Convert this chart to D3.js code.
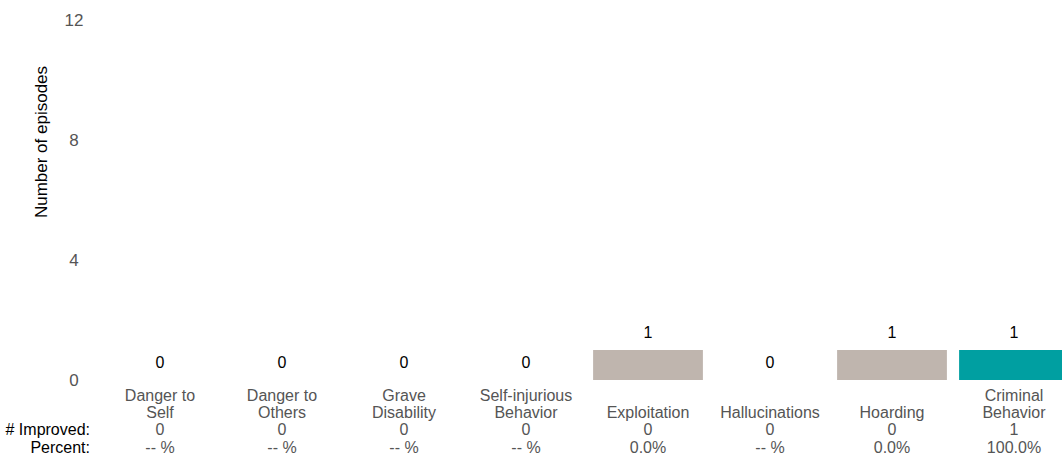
<!DOCTYPE html>
<html>
<head>
<meta charset="utf-8">
<script src="https://cdn.jsdelivr.net/npm/d3@7"></script>
<style>
    body { margin: 0; background: #fff; }
    text { font-family: "Liberation Sans", Arial, sans-serif; }
</style>
</head>
<body>
<div id="chart"></div>
<script>
var categories = [["Danger to", "Self"], ["Danger to", "Others"], ["Grave", "Disability"],
    ["Self-injurious", "Behavior"], ["Exploitation"], ["Hallucinations"], ["Hoarding"],
    ["Criminal", "Behavior"]];
var episodes = [0, 0, 0, 0, 1, 0, 1, 1];
var improved = [0, 0, 0, 0, 0, 0, 0, 1];
var percents = ["-- %", "-- %", "-- %", "-- %", "0.0%", "-- %", "0.0%", "100.0%"];
var barColors = ["#bfb5ae", "#bfb5ae", "#bfb5ae", "#bfb5ae", "#bfb5ae", "#bfb5ae", "#bfb5ae", "#009fa1"];
var yTicks = [0, 4, 8, 12];

var width = 1062, height = 456;

var svg = d3.select("#chart").append("svg")
    .attr("width", width)
    .attr("height", height);

var x = d3.scaleBand()
    .domain(d3.range(categories.length))
    .range([99, 1075])
    .paddingInner(0.1)
    .paddingOuter(0.05);

var y = d3.scaleLinear()
    .domain([0, 12])
    .range([380, 20]);

function cx(i) { return x(i) + x.bandwidth() / 2; }

// y tick labels, no axis line
svg.append("g").selectAll("text")
    .data(yTicks)
    .enter().append("text")
    .attr("x", 74)
    .attr("y", function (d) { return y(d); })
    .attr("dy", "0.35em")
    .attr("text-anchor", "middle")
    .attr("fill", "#555")
    .style("font-size", "17px")
    .text(function (d) { return d; });

svg.append("text")
    .attr("transform", "translate(47,142) rotate(-90)")
    .attr("text-anchor", "middle")
    .attr("fill", "#000")
    .style("font-size", "17px")
    .text("Number of episodes");

// bars
svg.append("g").selectAll("rect")
    .data(episodes)
    .enter().append("rect")
    .attr("x", function (d, i) { return x(i); })
    .attr("y", function (d) { return y(d); })
    .attr("width", x.bandwidth())
    .attr("height", function (d) { return y(0) - y(d); })
    .attr("fill", function (d, i) { return barColors[i]; });

// value labels
svg.append("g").selectAll("text")
    .data(episodes)
    .enter().append("text")
    .attr("x", function (d, i) { return cx(i); })
    .attr("y", function (d) { return y(d) - 12; })
    .attr("text-anchor", "middle")
    .attr("fill", "#000")
    .style("font-size", "16px")
    .text(function (d) { return d; });

// category labels, bottom-aligned
var cat = svg.append("g").selectAll("text")
    .data(categories)
    .enter().append("text")
    .attr("text-anchor", "middle")
    .attr("fill", "#555")
    .style("font-size", "16px");
cat.each(function (lines, i) {
    var t = d3.select(this);
    lines.forEach(function (l, j) {
        t.append("tspan")
            .attr("x", cx(i))
            .attr("y", 418 - (lines.length - 1 - j) * 17)
            .text(l);
    });
});

// # Improved row
svg.append("text")
    .attr("x", 90).attr("y", 435)
    .attr("text-anchor", "end")
    .style("font-size", "16px")
    .text("# Improved:");
svg.append("g").selectAll("text")
    .data(improved)
    .enter().append("text")
    .attr("x", function (d, i) { return cx(i); })
    .attr("y", 435)
    .attr("text-anchor", "middle")
    .attr("fill", "#555")
    .style("font-size", "16px")
    .text(function (d) { return d; });

// Percent row
svg.append("text")
    .attr("x", 90).attr("y", 453)
    .attr("text-anchor", "end")
    .style("font-size", "16px")
    .text("Percent:");
svg.append("g").selectAll("text")
    .data(percents)
    .enter().append("text")
    .attr("x", function (d, i) { return cx(i); })
    .attr("y", 453)
    .attr("text-anchor", "middle")
    .attr("fill", "#555")
    .style("font-size", "16px")
    .text(function (d) { return d; });
</script>
</body>
</html>
